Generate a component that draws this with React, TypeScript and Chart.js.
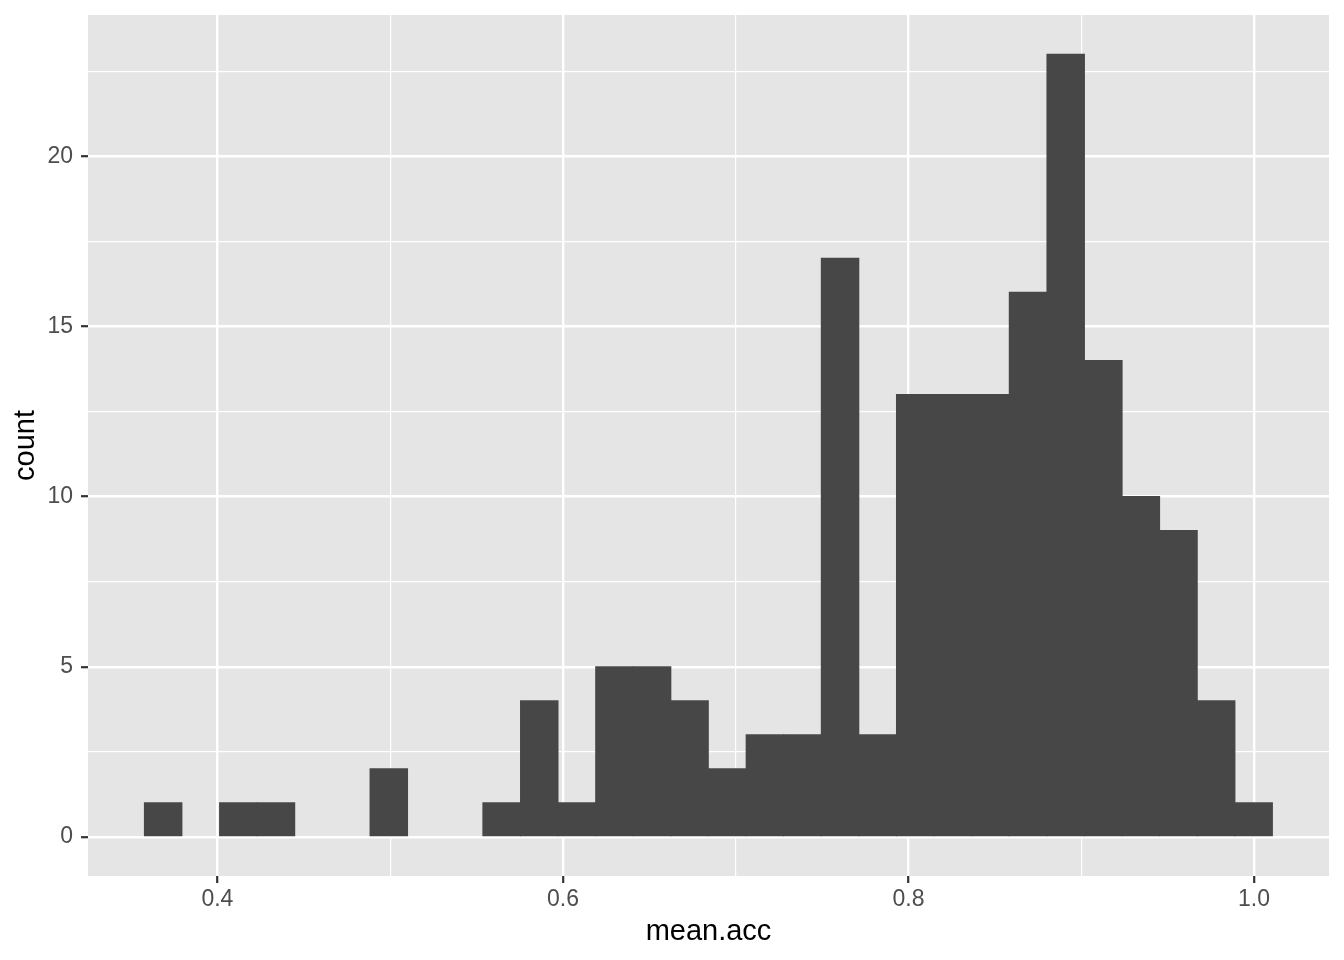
import React, { useEffect, useRef } from "react";
import { Chart, registerables } from "chart.js";

Chart.register(...registerables);

// Histogram bins (30 bins) of mean.acc
const binCenters = [
  0.3686, 0.3904, 0.4121, 0.4339, 0.4557, 0.4774, 0.4992, 0.521, 0.5427, 0.5645,
  0.5863, 0.608, 0.6298, 0.6516, 0.6733, 0.6951, 0.7169, 0.7386, 0.7604, 0.7822,
  0.8039, 0.8257, 0.8475, 0.8692, 0.891, 0.9128, 0.9345, 0.9563, 0.9781, 0.9998,
];
const counts = [
  1, 0, 1, 1, 0, 0, 2, 0, 0, 1,
  4, 1, 5, 5, 4, 2, 3, 3, 17, 3,
  13, 13, 13, 16, 23, 14, 10, 9, 4, 1,
];

const xMajorTicks = [0.4, 0.6, 0.8, 1.0];
const xMinorTicks = [0.5, 0.7, 0.9];
const yMajorTicks = [0, 5, 10, 15, 20];
const yMinorTicks = [2.5, 7.5, 12.5, 17.5, 22.5];

const xTitle = "mean.acc";
const yTitle = "count";

const X_MIN = 0.3251;
const X_MAX = 1.0434;
const Y_MIN = -1.15;
const Y_MAX = 24.15;

const FONT = "'Liberation Sans', Arial, Helvetica, sans-serif";
const BAR = "#474747";

const isIn = (arr: number[], v: number) => arr.some((a) => Math.abs(a - v) < 1e-9);

const bgPlugin = {
  id: "panelBg",
  beforeDraw(chart: any) {
    const { ctx, chartArea } = chart;
    ctx.save();
    ctx.fillStyle = "#E5E5E5";
    ctx.fillRect(chartArea.left, chartArea.top, chartArea.right - chartArea.left, chartArea.bottom - chartArea.top);
    ctx.restore();
  },
};

export default function App() {
  const ref = useRef<HTMLCanvasElement | null>(null);

  useEffect(() => {
    document.body.style.margin = "0";
    const canvas = ref.current;
    if (!canvas) return;
    const data = binCenters.map((x, i) => ({ x, y: counts[i] }));
    const chart = new Chart(canvas, {
      type: "bar",
      data: {
        datasets: [
          {
            data,
            backgroundColor: (c: any) => (c.raw && c.raw.y > 0 ? BAR : "rgba(0,0,0,0)"),
            borderWidth: 0,
            inflateAmount: 0.5,
            barPercentage: 1,
            categoryPercentage: 1,
          } as any,
        ],
      },
      plugins: [bgPlugin],
      options: {
        animation: false,
        responsive: false,
        devicePixelRatio: 1,
        layout: { padding: { left: 0, top: 15, right: 15, bottom: 0 } },
        plugins: { legend: { display: false }, tooltip: { enabled: false } },
        scales: {
          x: {
            type: "linear",
            min: X_MIN,
            max: X_MAX,
            offset: false,
            afterBuildTicks: (scale: any) => {
              scale.ticks = [...xMajorTicks, ...xMinorTicks]
                .sort((a, b) => a - b)
                .map((v) => ({ value: v }));
            },
            afterFit: (scale: any) => {
              scale.height = 84;
              scale.paddingLeft = 0;
              scale.paddingRight = 0;
            },
            border: { display: false },
            grid: {
              offset: false,
              color: "#FFFFFF",
              lineWidth: (c: any) => (c.tick && isIn(xMajorTicks, c.tick.value) ? 2.4 : 1.2),
              drawTicks: true,
              tickLength: 7,
              tickWidth: 2.2,
              tickColor: (c: any) => (c.tick && isIn(xMajorTicks, c.tick.value) ? "#333333" : "rgba(0,0,0,0)"),
            } as any,
            ticks: {
              autoSkip: false,
              maxRotation: 0,
              padding: 3,
              color: "#4D4D4D",
              font: { family: FONT, size: 23 },
              callback: (v: any) => (isIn(xMajorTicks, Number(v)) ? Number(v).toFixed(1) : ""),
            },
            title: {
              display: true,
              text: xTitle,
              color: "#000000",
              font: { family: FONT, size: 29 },
              padding: { top: 0, bottom: 11 },
            },
          },
          y: {
            type: "linear",
            min: Y_MIN,
            max: Y_MAX,
            afterBuildTicks: (scale: any) => {
              scale.ticks = [...yMajorTicks, ...yMinorTicks]
                .sort((a, b) => a - b)
                .map((v) => ({ value: v }));
            },
            afterFit: (scale: any) => {
              scale.width = 88;
              scale.paddingTop = 0;
              scale.paddingBottom = 0;
            },
            border: { display: false },
            grid: {
              color: "#FFFFFF",
              lineWidth: (c: any) => (c.tick && isIn(yMajorTicks, c.tick.value) ? 2.4 : 1.2),
              drawTicks: true,
              tickLength: 7,
              tickWidth: 2.2,
              tickColor: (c: any) => (c.tick && isIn(yMajorTicks, c.tick.value) ? "#333333" : "rgba(0,0,0,0)"),
            } as any,
            ticks: {
              autoSkip: false,
              padding: 8,
              color: "#4D4D4D",
              font: { family: FONT, size: 23 },
              callback: (v: any) => (isIn(yMajorTicks, Number(v)) ? String(Number(v)) : ""),
            },
            title: {
              display: true,
              text: yTitle,
              color: "#000000",
              font: { family: FONT, size: 29 },
              padding: { top: 9, bottom: 0 },
            },
          },
        },
      } as any,
    });
    return () => chart.destroy();
  }, []);

  return (
    <div style={{ width: 1344, height: 960 }}>
      <canvas ref={ref} width={1344} height={960} style={{ display: "block" }} />
    </div>
  );
}
